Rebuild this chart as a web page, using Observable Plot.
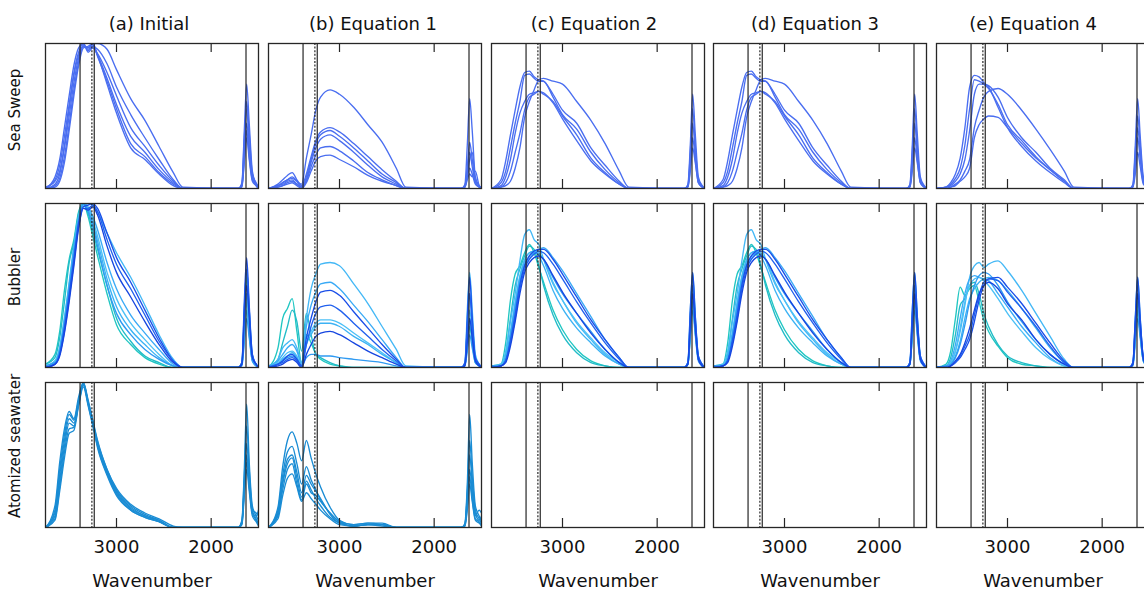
<!DOCTYPE html>
<html><head><meta charset="utf-8">
<script src="https://cdn.jsdelivr.net/npm/d3@7"></script>
<script src="https://cdn.jsdelivr.net/npm/@observablehq/plot@0.6"></script>
<style>
body{margin:0;background:#fff;}
#fig{position:relative;width:1144px;height:590px;overflow:hidden;font-family:"DejaVu Sans",sans-serif;color:#111;background:#fff;}
.lbl{position:absolute;white-space:nowrap;line-height:1;transform:translate(-50%,-50%);}
.rot{transform:translate(-50%,-50%) rotate(-90deg);}
.pnl{position:absolute;}
</style></head><body><div id="fig"></div><script>
// ---------------- data ----------------
const WN = [3750,3650,3600,3550,3500,3450,3400,3350,3300,3250,3200,3100,3000,2850,2700,2550,2400,2300,1715,1675,1650,1625,1598,1565,1525,1500];
const columnTitles = ["(a) Initial","(b) Equation 1","(c) Equation 2","(d) Equation 3","(e) Equation 4"];
const rowLabels = ["Sea Sweep","Bubbler","Atomized seawater"];
const xTicks = [3000, 2000];
const xLabel = "Wavenumber";
const refSolid = [3385, 3235, 1632];
const refDotted = [3260];

const seaSweepColor = "#4a6ef0";
const bubblerColors = ["#20c6c2","#22bcc8","#44b8f6","#3aaaf6","#4cc0f6","#3cb2f4","#2f9af2","#1a4ee8","#2060ee","#1646e0"];
const atomizedColor = "#1a8cd4";

const seaSweepA = [
 [1,5,12,30,55,78,92,98,97,100,100,96,82,62,47,29,11,1,0,4,40,72,45,12,3,0],
 [0,8,20,42,64,85,97,100,95,98,96,86,70,51,35,20,6,0,0,3,30,60,38,10,4,1],
 [0,6,16,36,58,80,94,100,94,97,93,80,64,42,29,16,5,0,0,3,35,55,30,8,2,0],
 [0,3,10,28,50,73,90,99,96,98,92,76,58,36,25,13,4,0,0,2,25,45,28,8,3,1],
 [0,2,7,22,44,68,87,98,97,99,91,74,55,31,22,11,3,0,0,2,20,40,22,6,2,0],
 [0,1,5,18,40,64,85,97,98,100,92,72,52,28,20,10,2,0,0,1,18,35,20,5,2,0]
];
const seaSweepB = [
 [0,2,4,6,7,5,3,21,37,54,63,68,65,56,44,32,14,1,0,3,30,62,40,8,2,0],
 [0,3,6,9,11,6,2,10,22,33,39,42,39,31,22,13,5,0,0,2,15,32,20,5,1,0],
 [0,2,4,6,8,5,1,8,20,31,37,40,36,28,19,10,4,0,0,2,12,25,15,4,1,0],
 [0,2,3,5,6,3,1,6,18,28,34,37,33,25,16,8,3,0,0,1,10,20,25,6,2,0],
 [0,1,2,4,5,3,1,5,15,23,28,29,26,19,11,6,2,0,0,1,8,14,10,3,1,0],
 [0,1,2,3,4,2,0,4,12,19,22,23,20,15,9,5,2,0,0,1,6,10,8,12,2,0]
];
const seaSweepC = [
 [0,6,19,37,54,70,80,81,77,75,74,65,54,45,28,16,5,0,0,3,30,65,38,8,2,0],
 [0,4,12,28,45,60,78,79,76,74,74,63,51,41,25,13,4,0,0,2,25,55,30,6,2,0],
 [0,2,8,20,38,52,60,65,66,67,65,60,50,37,21,11,3,0,0,2,20,45,25,5,1,0],
 [0,1,4,12,25,38,54,63,65,67,66,59,48,33,19,10,3,0,0,1,15,35,20,4,1,0],
 [0,1,2,5,14,28,49,60,68,75,76,74,72,60,47,31,12,1,0,1,12,28,18,4,1,0]
];
const seaSweepD = seaSweepC; // panel (d) reads the same as panel (c)
const seaSweepE = [
 [0,1,4,10,21,42,70,78,77,73,70,56,42,29,19,11,4,0,0,3,30,62,36,8,2,0],
 [0,1,3,7,14,30,55,75,74,72,69,58,44,33,22,13,5,0,0,2,25,50,30,6,2,0],
 [0,1,2,5,10,20,40,65,72,72,71,63,49,35,25,14,6,0,0,2,20,42,25,5,1,0],
 [0,0,1,3,6,12,20,42,54,63,67,69,65,54,41,27,12,1,0,1,15,35,20,4,1,0],
 [0,0,1,2,5,8,14,35,44,48,50,49,42,31,21,13,5,0,0,1,10,25,15,3,1,0]
];

const bubblerA = [
 [2,8,22,47,66,78,95,100,92,80,68,45,26,14,6,2,0,0,0,3,30,55,30,6,2,0],
 [2,6,18,40,64,76,94,100,94,83,72,50,30,16,7,3,0,0,0,2,25,45,25,5,1,0],
 [1,3,10,28,48,70,90,99,100,99,95,82,70,55,38,20,5,0,0,3,35,60,35,8,2,0],
 [1,4,12,30,52,74,92,100,98,92,84,64,48,32,21,11,2,0,0,2,25,45,25,5,1,0],
 [1,4,12,30,50,72,92,100,97,90,80,58,42,27,17,8,1,0,0,2,20,40,22,5,1,0],
 [1,3,11,28,50,72,91,100,96,88,77,54,37,23,14,6,1,0,0,2,18,35,20,4,1,0],
 [1,3,10,27,48,70,90,100,95,86,74,50,33,20,11,5,1,0,0,1,15,30,18,4,1,0],
 [0,2,8,24,44,66,88,98,99,100,97,82,67,52,35,18,4,0,0,3,40,67,38,8,2,0],
 [0,2,8,22,42,64,86,97,97,99,95,78,63,48,32,16,4,0,0,3,35,60,35,7,2,0],
 [0,2,7,21,40,62,85,97,96,98,93,74,58,43,28,14,3,0,0,2,30,50,30,6,2,0]
];
const bubblerB = [
 [0,12,30,36,42,22,3,20,15,8,5,2,1,0,0,0,0,0,0,2,15,30,18,4,1,0],
 [0,5,15,25,35,28,10,33,20,8,6,3,1,0,0,0,0,0,0,2,12,25,15,3,1,0],
 [1,5,12,15,17,12,3,30,48,57,63,64,62,51,39,25,11,1,0,3,35,58,35,8,2,0],
 [1,4,8,12,14,10,2,25,38,46,51,52,48,38,28,17,6,0,0,2,25,45,28,6,2,0],
 [1,3,6,9,10,7,1,15,22,27,29,29,27,21,15,9,3,0,0,2,18,35,22,5,1,0],
 [1,2,5,7,9,6,1,14,20,25,27,27,25,19,14,8,3,0,0,1,15,30,20,4,1,0],
 [1,2,4,6,7,5,1,6,8,8,7,7,6,5,4,3,1,0,0,1,10,20,12,3,1,0],
 [0,2,4,7,8,5,1,18,30,40,46,47,44,34,24,14,5,0,0,3,30,55,30,6,2,0],
 [0,2,3,5,6,4,1,14,25,33,37,38,35,27,19,11,4,0,0,2,25,45,25,5,1,0],
 [0,1,2,4,5,3,0,8,14,19,21,22,20,15,10,6,2,0,0,1,15,30,18,4,1,0]
];
const bubblerC = [
 [1,2,15,41,57,62,70,75,70,61,52,35,23,11,4,1,0,0,0,3,25,50,28,6,1,0],
 [1,1,8,30,50,60,68,74,72,62,50,32,20,9,3,1,0,0,0,2,20,40,22,5,1,0],
 [1,2,10,28,45,65,81,84,78,75,66,51,41,27,17,8,2,0,0,3,35,58,32,7,2,0],
 [1,1,5,18,35,52,62,66,70,72,73,67,59,45,31,17,6,0,0,2,30,55,30,6,2,0],
 [1,1,6,22,40,56,66,70,71,70,66,52,41,28,18,9,3,0,0,2,25,45,25,5,1,0],
 [1,1,6,20,38,55,65,70,71,68,62,47,36,24,15,7,2,0,0,2,20,40,22,5,1,0],
 [1,1,5,19,36,52,63,68,70,69,66,55,45,33,22,11,3,0,0,2,18,35,20,4,1,0],
 [0,1,4,16,32,50,62,68,71,72,72,66,57,43,29,17,6,0,0,3,35,58,32,7,2,0],
 [0,1,4,15,30,48,60,66,69,71,70,63,54,40,27,15,5,0,0,3,30,50,28,6,1,0],
 [0,1,3,13,28,45,58,64,67,68,66,56,46,33,21,11,3,0,0,2,25,45,25,5,1,0]
];
const bubblerD = bubblerC; // panel (d) reads the same as panel (c)
const bubblerE = [
 [0,2,10,30,49,44,48,50,40,29,22,13,6,2,1,0,0,0,0,2,20,40,22,5,1,0],
 [0,1,6,20,38,42,50,52,45,33,25,14,7,3,1,0,0,0,0,2,18,35,20,4,1,0],
 [0,1,3,10,22,38,55,62,64,61,63,65,59,47,33,19,5,0,0,3,30,55,30,6,2,0],
 [0,1,4,14,30,45,54,56,55,54,53,45,37,25,15,6,1,0,0,2,25,45,25,5,1,0],
 [0,1,3,10,24,40,50,54,55,53,50,42,33,22,12,5,1,0,0,2,20,40,22,5,1,0],
 [0,1,2,7,16,30,42,48,52,54,55,53,47,36,24,12,3,0,0,2,18,35,20,4,1,0],
 [0,1,2,6,14,26,40,50,56,58,57,50,40,28,17,8,2,0,0,1,15,30,18,4,1,0],
 [0,0,1,3,6,11,17,28,41,50,54,55,49,39,27,15,4,0,0,3,30,55,30,6,2,0],
 [0,0,1,3,7,13,20,32,44,52,54,53,46,36,25,13,3,0,0,3,28,50,28,6,1,0],
 [0,0,1,4,8,15,24,35,45,50,52,48,39,29,17,8,2,0,0,2,25,45,25,5,1,0]
];

const atomizedA = [
 [0,15,45,68,80,75,90,100,86,72,58,39,25,14,8,5,0,0,0,5,40,85,45,15,8,5],
 [0,12,40,64,78,74,88,100,88,74,60,40,26,15,9,5,0,0,0,4,35,70,40,12,6,3],
 [0,10,36,60,75,72,87,99,85,71,57,38,24,13,8,4,0,0,0,4,30,58,35,12,10,8],
 [0,8,32,56,72,70,86,99,87,73,59,40,27,16,10,6,1,0,0,3,28,50,30,10,8,12],
 [0,6,28,52,68,69,85,98,86,72,56,37,23,12,7,4,0,0,0,3,25,45,28,10,5,2],
 [0,5,25,48,65,67,84,97,84,70,55,36,22,12,7,4,0,0,0,2,22,40,25,8,4,1]
];
const atomizedB = [
 [0,14,42,60,66,58,46,60,48,37,28,14,5,2,3,3,0,0,0,3,30,78,45,15,8,4],
 [0,12,36,52,56,44,30,42,33,26,19,10,4,2,3,2,0,0,0,2,25,60,35,12,6,3],
 [0,10,32,47,50,38,24,36,30,25,20,9,3,1,2,2,0,0,0,2,22,50,30,10,5,8],
 [0,9,30,44,48,34,21,32,26,20,15,7,3,1,2,2,0,0,0,2,18,40,25,8,12,10],
 [0,8,26,40,44,30,19,30,24,22,18,10,4,1,2,2,0,0,0,1,15,35,20,6,4,2],
 [0,6,22,34,37,28,18,24,20,16,12,6,2,1,2,1,0,0,0,1,12,30,18,5,3,1]
];

// ---------------- layout ----------------
const colLeft = [45, 268, 491, 713, 936];
const panelW = 213;
const rowTop = [43, 203, 382];
const rowH = [145, 164, 145];
const titleX = [149, 373, 594, 815, 1033];
const titleY = 24;
const rowLabelX = 15;
const rowLabelY = [110, 277, 446];

const grid = [
  [seaSweepA, seaSweepB, seaSweepC, seaSweepD, seaSweepE],
  [bubblerA, bubblerB, bubblerC, bubblerD, bubblerE],
  [atomizedA, atomizedB, [], [], []]
];
const rowColors = [
  i => seaSweepColor,
  i => bubblerColors[i % bubblerColors.length],
  i => atomizedColor
];

const fig = document.getElementById("fig");
const ink = "#262626";

function panel(curves, colorOf, H, bottom) {
  const data = [];
  curves.forEach((c, i) => c.forEach((v, j) => data.push({w: WN[j], v, id: i, c: colorOf(i)})));
  const marks = [
    Plot.line(data, {x: "w", y: "v", z: "id", stroke: "c", strokeWidth: 1.35, curve: "monotone-x", clip: true}),
    Plot.ruleX(refSolid, {stroke: ink, strokeWidth: 1.2}),
    Plot.ruleX(refDotted, {stroke: ink, strokeWidth: 1.2, strokeDasharray: "2,1.6"}),
    Plot.ruleX(xTicks, {stroke: ink, strokeWidth: 1.2, insetBottom: H - 9}),
    Plot.ruleX(xTicks, {stroke: ink, strokeWidth: 1.2, insetTop: H - 9}),
    Plot.frame({stroke: ink, strokeWidth: 1.3})
  ];
  if (bottom) {
    marks.push(Plot.axisX({ticks: xTicks, anchor: "bottom", tickSize: 0, tickPadding: 13, fontSize: 18, tickFormat: d => String(d), label: null, fill: "#111"}));
    marks.push(Plot.text([xLabel], {frameAnchor: "bottom", lineAnchor: "middle", dy: 53.5, fontSize: 18, fill: "#111"}));
  }
  return Plot.plot({
    width: panelW,
    height: H + (bottom ? 63 : 0),
    marginTop: 0, marginLeft: 0, marginRight: 0, marginBottom: bottom ? 63 : 0,
    x: bottom ? {domain: [3750, 1500]} : {domain: [3750, 1500], axis: null},
    y: {domain: [0, 100], axis: null},
    color: {type: "identity"},
    style: {overflow: "visible", background: "transparent", fontFamily: "DejaVu Sans", fontSize: "18px"},
    marks
  });
}

grid.forEach((row, r) => {
  row.forEach((curves, c) => {
    const svg = panel(curves, rowColors[r], rowH[r], r === 2);
    svg.classList.add("pnl");
    svg.style.left = colLeft[c] + "px";
    svg.style.top = rowTop[r] + "px";
    fig.appendChild(svg);
  });
});

columnTitles.forEach((t, c) => {
  const d = document.createElement("div");
  d.className = "lbl"; d.textContent = t;
  d.style.fontSize = "18px";
  d.style.left = titleX[c] + "px"; d.style.top = titleY + "px";
  fig.appendChild(d);
});
rowLabels.forEach((t, r) => {
  const d = document.createElement("div");
  d.className = "lbl rot"; d.textContent = t;
  d.style.fontSize = "15px";
  d.style.left = rowLabelX + "px"; d.style.top = rowLabelY[r] + "px";
  fig.appendChild(d);
});
</script></body></html>
